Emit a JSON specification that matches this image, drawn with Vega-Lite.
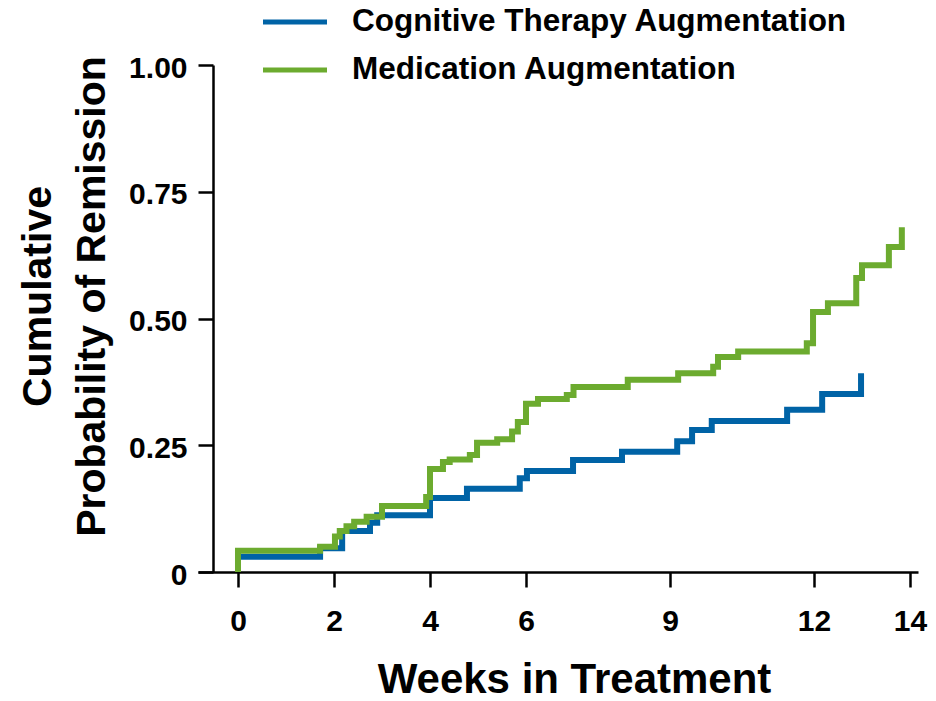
{
  "$schema": "https://vega.github.io/schema/vega-lite/v6.json",
  "width": 720,
  "height": 507,
  "autosize": {"type": "none"},
  "padding": {"left": 198, "top": 65, "right": 18, "bottom": 129},
  "background": "white",
  "config": {"view": {"stroke": null}, "font": "Liberation Sans"},
  "data": {
    "values": [
      {"arm": "Cognitive Therapy Augmentation", "week": 0, "prob": 0},
      {"arm": "Cognitive Therapy Augmentation", "week": 0, "prob": 0.030},
      {"arm": "Cognitive Therapy Augmentation", "week": 1.71, "prob": 0.047},
      {"arm": "Cognitive Therapy Augmentation", "week": 2.17, "prob": 0.081},
      {"arm": "Cognitive Therapy Augmentation", "week": 2.75, "prob": 0.097},
      {"arm": "Cognitive Therapy Augmentation", "week": 2.9, "prob": 0.112},
      {"arm": "Cognitive Therapy Augmentation", "week": 4.0, "prob": 0.146},
      {"arm": "Cognitive Therapy Augmentation", "week": 4.77, "prob": 0.164},
      {"arm": "Cognitive Therapy Augmentation", "week": 5.87, "prob": 0.185},
      {"arm": "Cognitive Therapy Augmentation", "week": 6.02, "prob": 0.199},
      {"arm": "Cognitive Therapy Augmentation", "week": 6.98, "prob": 0.221},
      {"arm": "Cognitive Therapy Augmentation", "week": 8.0, "prob": 0.237},
      {"arm": "Cognitive Therapy Augmentation", "week": 9.15, "prob": 0.258},
      {"arm": "Cognitive Therapy Augmentation", "week": 9.46, "prob": 0.280},
      {"arm": "Cognitive Therapy Augmentation", "week": 9.87, "prob": 0.298},
      {"arm": "Cognitive Therapy Augmentation", "week": 11.44, "prob": 0.320},
      {"arm": "Cognitive Therapy Augmentation", "week": 12.17, "prob": 0.351},
      {"arm": "Cognitive Therapy Augmentation", "week": 12.98, "prob": 0.392},
      {"arm": "Medication Augmentation", "week": 0, "prob": 0},
      {"arm": "Medication Augmentation", "week": 0, "prob": 0.042},
      {"arm": "Medication Augmentation", "week": 1.71, "prob": 0.050},
      {"arm": "Medication Augmentation", "week": 2.02, "prob": 0.070},
      {"arm": "Medication Augmentation", "week": 2.12, "prob": 0.081},
      {"arm": "Medication Augmentation", "week": 2.26, "prob": 0.090},
      {"arm": "Medication Augmentation", "week": 2.42, "prob": 0.099},
      {"arm": "Medication Augmentation", "week": 2.68, "prob": 0.109},
      {"arm": "Medication Augmentation", "week": 3.0, "prob": 0.130},
      {"arm": "Medication Augmentation", "week": 3.92, "prob": 0.148},
      {"arm": "Medication Augmentation", "week": 4.0, "prob": 0.203},
      {"arm": "Medication Augmentation", "week": 4.27, "prob": 0.217},
      {"arm": "Medication Augmentation", "week": 4.41, "prob": 0.222},
      {"arm": "Medication Augmentation", "week": 4.83, "prob": 0.231},
      {"arm": "Medication Augmentation", "week": 4.98, "prob": 0.255},
      {"arm": "Medication Augmentation", "week": 5.40, "prob": 0.262},
      {"arm": "Medication Augmentation", "week": 5.71, "prob": 0.277},
      {"arm": "Medication Augmentation", "week": 5.83, "prob": 0.296},
      {"arm": "Medication Augmentation", "week": 6.0, "prob": 0.332},
      {"arm": "Medication Augmentation", "week": 6.25, "prob": 0.341},
      {"arm": "Medication Augmentation", "week": 6.85, "prob": 0.349},
      {"arm": "Medication Augmentation", "week": 6.99, "prob": 0.365},
      {"arm": "Medication Augmentation", "week": 8.12, "prob": 0.379},
      {"arm": "Medication Augmentation", "week": 9.17, "prob": 0.392},
      {"arm": "Medication Augmentation", "week": 9.9, "prob": 0.405},
      {"arm": "Medication Augmentation", "week": 10.0, "prob": 0.424},
      {"arm": "Medication Augmentation", "week": 10.42, "prob": 0.435},
      {"arm": "Medication Augmentation", "week": 11.85, "prob": 0.451},
      {"arm": "Medication Augmentation", "week": 11.98, "prob": 0.513},
      {"arm": "Medication Augmentation", "week": 12.29, "prob": 0.530},
      {"arm": "Medication Augmentation", "week": 12.88, "prob": 0.580},
      {"arm": "Medication Augmentation", "week": 13.0, "prob": 0.605},
      {"arm": "Medication Augmentation", "week": 13.56, "prob": 0.641},
      {"arm": "Medication Augmentation", "week": 13.83, "prob": 0.680}
    ]
  },
  "mark": {
    "type": "line",
    "interpolate": "step-after",
    "strokeWidth": 6,
    "strokeCap": "butt",
    "strokeJoin": "miter"
  },
  "encoding": {
    "x": {
      "field": "week",
      "type": "quantitative",
      "scale": {"domain": [-0.8333, 14.1667], "nice": false, "zero": false},
      "axis": {
        "values": [0, 2, 4, 6, 9, 12, 14],
        "title": "Weeks in Treatment",
        "titleFont": "Liberation Sans",
        "titleFontSize": 42,
        "titleFontWeight": "bold",
        "titleColor": "black",
        "titleX": 376,
        "titleY": 120,
        "titleAlign": "center",
        "titleBaseline": "alphabetic",
        "labelFont": "Liberation Sans",
        "labelFontSize": 30,
        "labelFontWeight": "bold",
        "labelColor": "black",
        "labelPadding": 19,
        "labelFlush": false,
        "labelOverlap": false,
        "tickSize": 15,
        "tickWidth": 2.5,
        "tickColor": "black",
        "domainColor": "black",
        "domainWidth": 2.5,
        "grid": false
      }
    },
    "y": {
      "field": "prob",
      "type": "quantitative",
      "scale": {"domain": [0, 1], "nice": false},
      "axis": {
        "values": [0, 0.25, 0.5, 0.75, 1],
        "labelExpr": "datum.value == 0 ? '0' : format(datum.value, '.2f')",
        "offset": -15,
        "title": ["Cumulative", "Probability of Remission"],
        "titleFont": "Liberation Sans",
        "titleFontSize": 41,
        "titleFontWeight": "bold",
        "titleColor": "black",
        "titleAngle": 270,
        "titleAlign": "center",
        "titleBaseline": "alphabetic",
        "titleLineHeight": 54,
        "titleX": -163,
        "titleY": 231,
        "labelFont": "Liberation Sans",
        "labelFontSize": 30,
        "labelFontWeight": "bold",
        "labelColor": "black",
        "labelPadding": 11,
        "labelOffset": 3,
        "labelFlush": false,
        "labelOverlap": false,
        "tickSize": 15,
        "tickWidth": 2.5,
        "tickColor": "black",
        "domainColor": "black",
        "domainWidth": 2.5,
        "grid": false
      }
    },
    "color": {
      "field": "arm",
      "type": "nominal",
      "scale": {
        "domain": ["Cognitive Therapy Augmentation", "Medication Augmentation"],
        "range": ["#0063A6", "#6CAB2F"]
      },
      "legend": {
        "title": null,
        "orient": "none",
        "legendX": 62.5,
        "legendY": -63,
        "direction": "vertical",
        "padding": 0,
        "symbolType": "stroke",
        "symbolSize": 4096,
        "symbolStrokeWidth": 5,
        "clipHeight": 40,
        "rowPadding": 8,
        "labelOffset": 22.5,
        "labelFont": "Liberation Sans",
        "labelFontSize": 31.5,
        "labelFontWeight": "bold",
        "labelColor": "black",
        "labelLimit": 1000
      }
    },
    "order": [
      {"field": "week", "type": "quantitative"},
      {"field": "prob", "type": "quantitative"}
    ]
  }
}
